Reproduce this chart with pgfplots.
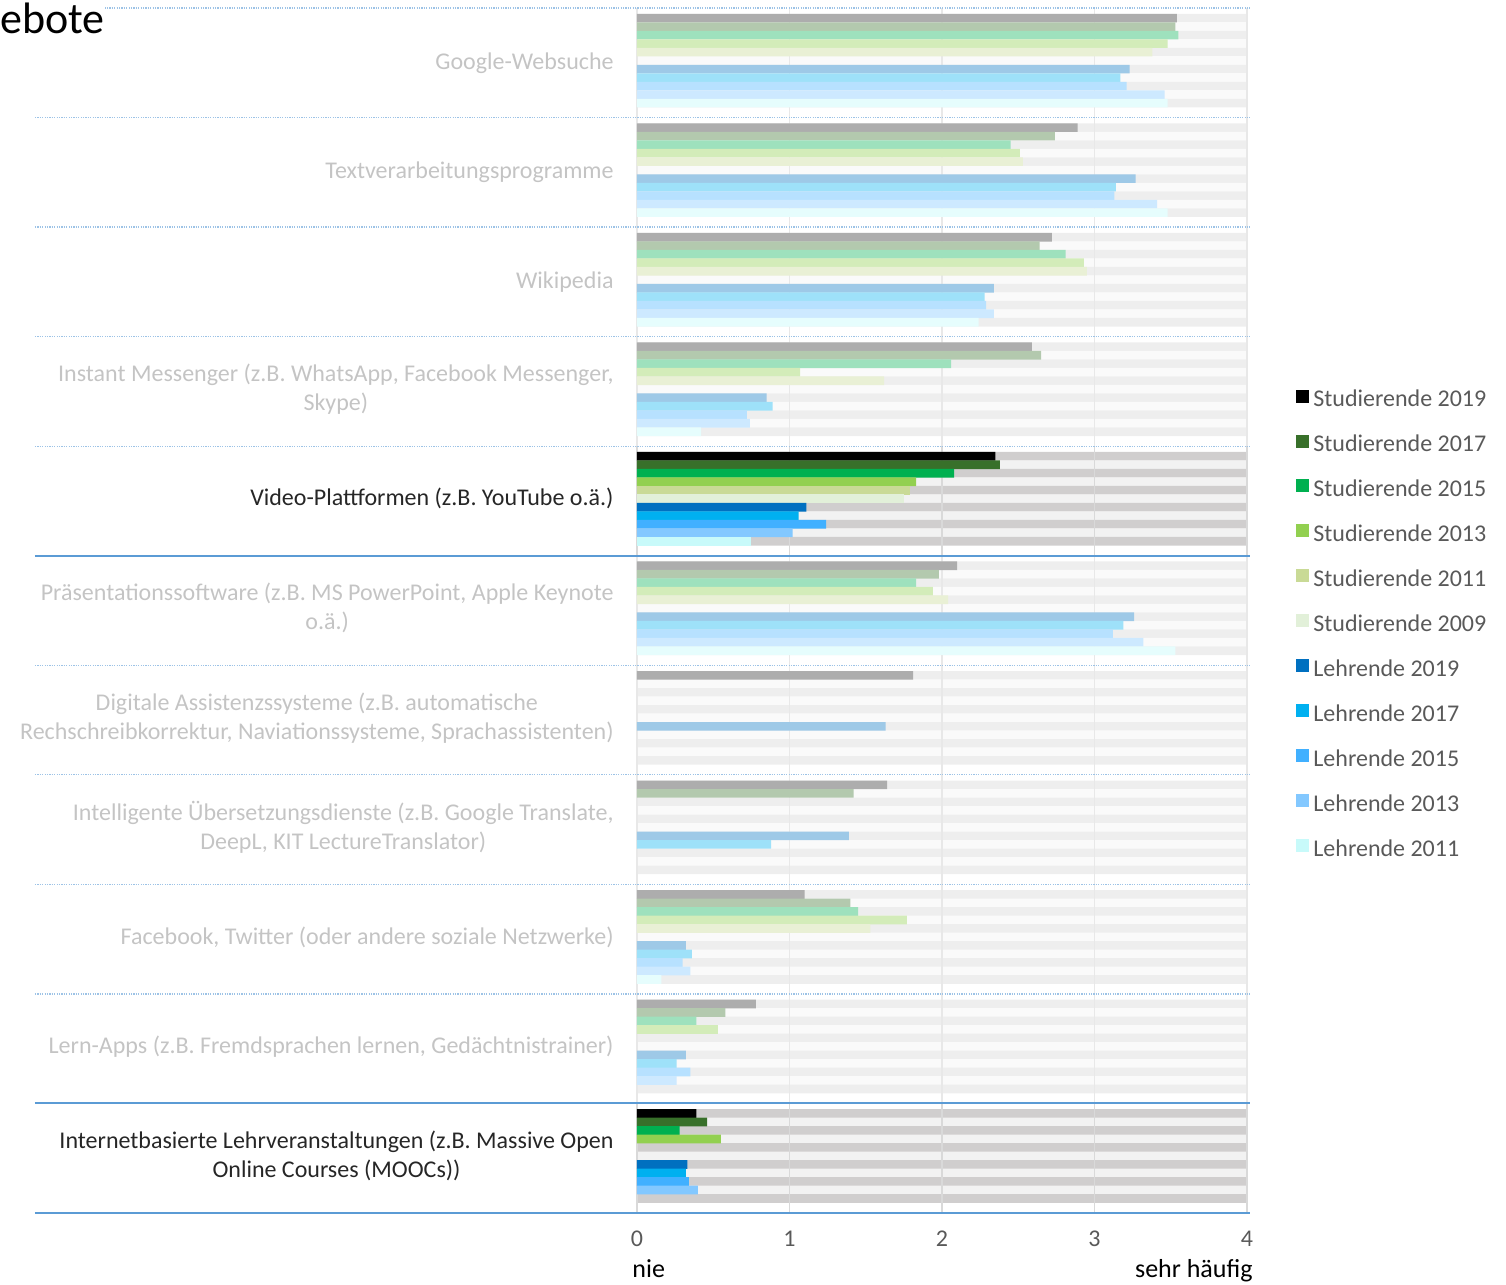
\documentclass[border=0pt]{standalone}
\usepackage{fontspec}
\setmainfont{Carlito}
\usepackage{pgfplots}
\pgfplotsset{compat=1.18}
\usepackage{pgfplotstable}

\definecolor{cS19}{HTML}{000000}
\definecolor{cS17}{HTML}{38702A}
\definecolor{cS15}{HTML}{00B050}
\definecolor{cS13}{HTML}{92D050}
\definecolor{cS11}{HTML}{C9DA96}
\definecolor{cS09}{HTML}{E2F0D9}
\definecolor{cL19}{HTML}{0070C0}
\definecolor{cL17}{HTML}{00B0F0}
\definecolor{cL15}{HTML}{41B0FF}
\definecolor{cL13}{HTML}{83C8FF}
\definecolor{cL11}{HTML}{C8FAFA}
\definecolor{bgD}{HTML}{D0CECE}
\definecolor{bgL}{HTML}{F2F2F2}
\definecolor{fbgD}{HTML}{EEEEEE}
\definecolor{fbgL}{HTML}{FAFAFA}
\definecolor{gridc}{HTML}{D9D9D9}
\definecolor{fgridc}{HTML}{E8E8E8}
\definecolor{sepblue}{HTML}{5B9BD5}
\definecolor{sepdot}{HTML}{9DC3E6}
\definecolor{ticktext}{HTML}{595959}
\definecolor{fadetext}{HTML}{C4C4C4}

% faded categories (index 0 = top)
\pgfplotstableread{
c S19 S17 S15 S13 S11 S09 L19 L17 L15 L13 L11
0 3.54 3.53 3.55 3.48 3.38 nan 3.23 3.17 3.21 3.46 3.48
1 2.89 2.74 2.45 2.51 2.53 nan 3.27 3.14 3.13 3.41 3.48
2 2.72 2.64 2.81 2.93 2.95 nan 2.34 2.28 2.29 2.34 2.24
3 2.59 2.65 2.06 1.07 1.62 nan 0.85 0.89 0.72 0.74 0.42
5 2.10 1.98 1.83 1.94 2.04 nan 3.26 3.19 3.12 3.32 3.53
6 1.81 nan nan nan nan nan 1.63 nan nan nan nan
7 1.64 1.42 nan nan nan nan 1.39 0.88 nan nan nan
8 1.10 1.40 1.45 1.77 1.53 nan 0.32 0.36 0.30 0.35 0.16
9 0.78 0.58 0.39 0.53 nan nan 0.32 0.26 0.35 0.26 nan
}\faded
% highlighted categories
\pgfplotstableread{
c S19 S17 S15 S13 S11 S09 L19 L17 L15 L13 L11
4 2.35 2.38 2.08 1.83 1.79 1.75 1.11 1.06 1.24 1.02 0.75
10 0.39 0.46 0.28 0.55 nan nan 0.33 0.32 0.34 0.40 nan
}\highl
% background bars (full scale)
\pgfplotstableread{
c v
0 4
1 4
2 4
3 4
5 4
6 4
7 4
8 4
9 4
}\bgfaded
\pgfplotstableread{
c v
4 4
10 4
}\bghigh

\newcommand{\lbl}{\fontsize{12}{14.5}\selectfont}
\pgfplotsset{
  bb/.style={xbar, bar width=0.079, draw=none, forget plot},
}

\begin{document}
\begin{tikzpicture}
\begin{axis}[
  scale only axis, width=305pt, height=602.5pt,
  at={(0,0)}, anchor=south west,
  xmin=0, xmax=4, ymin=-0.5, ymax=10.5, y dir=reverse,
  axis line style={draw=none},
  ytick=\empty, xtick={0,1,2,3,4}, major tick length=0pt,
  xticklabel style={text=ticktext, font=\fontsize{12}{14}\selectfont, yshift=-5.5pt},
  /pgf/number format/assume math mode=true,
  clip=false,
  legend image code/.code={\fill[#1, draw=none] (0pt,-1.2pt) rectangle (6.5pt,5.3pt);},
  legend cell align=left,
  legend style={draw=none, fill=none, inner sep=0pt, at={(1.0803,0.4880)}, anchor=west,
    font=\fontsize{12}{14}\selectfont, text=ticktext, row sep=8.65pt},
]
% ---- backgrounds, faded categories
\addplot[bb, bar shift=-0.408, fill=fbgD] table[x=v,y=c]{\bgfaded};
\addplot[bb, bar shift=-0.3304, fill=fbgL] table[x=v,y=c]{\bgfaded};
\addplot[bb, bar shift=-0.2528, fill=fbgD] table[x=v,y=c]{\bgfaded};
\addplot[bb, bar shift=-0.1752, fill=fbgL] table[x=v,y=c]{\bgfaded};
\addplot[bb, bar shift=-0.0976, fill=fbgD] table[x=v,y=c]{\bgfaded};
\addplot[bb, bar shift=-0.02, fill=fbgL] table[x=v,y=c]{\bgfaded};
\addplot[bb, bar shift=0.0576, fill=fbgD] table[x=v,y=c]{\bgfaded};
\addplot[bb, bar shift=0.1352, fill=fbgL] table[x=v,y=c]{\bgfaded};
\addplot[bb, bar shift=0.2128, fill=fbgD] table[x=v,y=c]{\bgfaded};
\addplot[bb, bar shift=0.2904, fill=fbgL] table[x=v,y=c]{\bgfaded};
\addplot[bb, bar shift=0.368, fill=fbgD] table[x=v,y=c]{\bgfaded};
% ---- backgrounds, highlighted categories
\addplot[bb, bar shift=-0.408, fill=bgD] table[x=v,y=c]{\bghigh};
\addplot[bb, bar shift=-0.3304, fill=bgL] table[x=v,y=c]{\bghigh};
\addplot[bb, bar shift=-0.2528, fill=bgD] table[x=v,y=c]{\bghigh};
\addplot[bb, bar shift=-0.1752, fill=bgL] table[x=v,y=c]{\bghigh};
\addplot[bb, bar shift=-0.0976, fill=bgD] table[x=v,y=c]{\bghigh};
\addplot[bb, bar shift=-0.02, fill=bgL] table[x=v,y=c]{\bghigh};
\addplot[bb, bar shift=0.0576, fill=bgD] table[x=v,y=c]{\bghigh};
\addplot[bb, bar shift=0.1352, fill=bgL] table[x=v,y=c]{\bghigh};
\addplot[bb, bar shift=0.2128, fill=bgD] table[x=v,y=c]{\bghigh};
\addplot[bb, bar shift=0.2904, fill=bgL] table[x=v,y=c]{\bghigh};
\addplot[bb, bar shift=0.368, fill=bgD] table[x=v,y=c]{\bghigh};
% ---- vertical grid lines
\pgfplotsinvokeforeach{0,1,2,3,4}{
  \draw[fgridc, line width=0.7pt] (axis cs:#1,-0.5) -- (axis cs:#1,10.5);
  \draw[gridc, line width=0.7pt] (axis cs:#1,3.5) -- (axis cs:#1,4.5);
  \draw[gridc, line width=0.7pt] (axis cs:#1,9.5) -- (axis cs:#1,10.5);
}
% ---- data, faded categories
\addplot[bb, bar shift=-0.408, fill=cS19!32!white] table[x=S19,y=c]{\faded};
\addplot[bb, bar shift=-0.3304, fill=cS17!38!white] table[x=S17,y=c]{\faded};
\addplot[bb, bar shift=-0.2528, fill=cS15!38!white] table[x=S15,y=c]{\faded};
\addplot[bb, bar shift=-0.1752, fill=cS13!40!white] table[x=S13,y=c]{\faded};
\addplot[bb, bar shift=-0.0976, fill=cS11!40!white] table[x=S11,y=c]{\faded};
\addplot[bb, bar shift=-0.02, fill=cS09!45!white] table[x=S09,y=c]{\faded};
\addplot[bb, bar shift=0.0576, fill=cL19!38!white] table[x=L19,y=c]{\faded};
\addplot[bb, bar shift=0.1352, fill=cL17!38!white] table[x=L17,y=c]{\faded};
\addplot[bb, bar shift=0.2128, fill=cL15!38!white] table[x=L15,y=c]{\faded};
\addplot[bb, bar shift=0.2904, fill=cL13!40!white] table[x=L13,y=c]{\faded};
\addplot[bb, bar shift=0.368, fill=cL11!45!white] table[x=L11,y=c]{\faded};
% ---- data, highlighted categories
\addplot[bb, bar shift=-0.408, fill=cS19] table[x=S19,y=c]{\highl};
\addplot[bb, bar shift=-0.3304, fill=cS17] table[x=S17,y=c]{\highl};
\addplot[bb, bar shift=-0.2528, fill=cS15] table[x=S15,y=c]{\highl};
\addplot[bb, bar shift=-0.1752, fill=cS13] table[x=S13,y=c]{\highl};
\addplot[bb, bar shift=-0.0976, fill=cS11] table[x=S11,y=c]{\highl};
\addplot[bb, bar shift=-0.02, fill=cS09] table[x=S09,y=c]{\highl};
\addplot[bb, bar shift=0.0576, fill=cL19] table[x=L19,y=c]{\highl};
\addplot[bb, bar shift=0.1352, fill=cL17] table[x=L17,y=c]{\highl};
\addplot[bb, bar shift=0.2128, fill=cL15] table[x=L15,y=c]{\highl};
\addplot[bb, bar shift=0.2904, fill=cL13] table[x=L13,y=c]{\highl};
\addplot[bb, bar shift=0.368, fill=cL11] table[x=L11,y=c]{\highl};
% ---- legend
\addlegendimage{fill=cS19}\addlegendentry{Studierende 2019}
\addlegendimage{fill=cS17}\addlegendentry{Studierende 2017}
\addlegendimage{fill=cS15}\addlegendentry{Studierende 2015}
\addlegendimage{fill=cS13}\addlegendentry{Studierende 2013}
\addlegendimage{fill=cS11}\addlegendentry{Studierende 2011}
\addlegendimage{fill=cS09}\addlegendentry{Studierende 2009}
\addlegendimage{fill=cL19}\addlegendentry{Lehrende 2019}
\addlegendimage{fill=cL17}\addlegendentry{Lehrende 2017}
\addlegendimage{fill=cL15}\addlegendentry{Lehrende 2015}
\addlegendimage{fill=cL13}\addlegendentry{Lehrende 2013}
\addlegendimage{fill=cL11}\addlegendentry{Lehrende 2011}
% ---- separator lines
\pgfplotsinvokeforeach{-0.5,0.5,1.5,2.5,3.5,5.5,6.5,7.5,8.5}{
  \draw[sepdot, line width=0.6pt, dash pattern=on 0.6pt off 0.6pt] (axis cs:-3.948,#1) -- (axis cs:4.02,#1);
}
\pgfplotsinvokeforeach{4.5,9.5,10.5}{
  \draw[sepblue, line width=1pt] (axis cs:-3.948,#1) -- (axis cs:4.02,#1);
}
% ---- category labels
\tikzset{cl/.style={anchor=east, align=center, inner sep=0pt, font=\lbl, text=fadetext}}
\node[cl] at (axis cs:-0.151,0) {Google-Websuche};
\node[cl] at (axis cs:-0.151,1) {Textverarbeitungsprogramme};
\node[cl] at (axis cs:-0.151,2) {Wikipedia};
\node[cl] at (axis cs:-0.151,2.98) {Instant Messenger (z.B. WhatsApp, Facebook Messenger,\\ Skype)};
\node[cl, text=black!85] at (axis cs:-0.151,3.98) {Video-Plattformen (z.B. YouTube o.ä.)};
\node[cl] at (axis cs:-0.151,4.98) {Präsentationssoftware (z.B. MS PowerPoint, Apple Keynote\\ o.ä.)};
\node[cl] at (axis cs:-0.151,5.98) {Digitale Assistenzssysteme (z.B. automatische\\ Rechschreibkorrektur, Naviationssysteme, Sprachassistenten)};
\node[cl] at (axis cs:-0.151,6.98) {Intelligente Übersetzungsdienste (z.B. Google Translate,\\ DeepL, KIT LectureTranslator)};
\node[cl] at (axis cs:-0.151,7.98) {Facebook, Twitter (oder andere soziale Netzwerke)};
\node[cl] at (axis cs:-0.151,8.98) {Lern-Apps (z.B. Fremdsprachen lernen, Gedächtnistrainer)};
\node[cl, text=black!85] at (axis cs:-0.151,9.98) {Internetbasierte Lehrveranstaltungen (z.B. Massive Open\\ Online Courses (MOOCs))};
\end{axis}
\node[anchor=base west, inner sep=0pt, fill=white, font=\fontsize{22}{26}\selectfont] at (-318.5pt,589.5pt) {ebote};
\node[anchor=base west, inner sep=0pt, font=\fontsize{13}{15}\selectfont] at (-2.5pt,-32.5pt) {nie};
\node[anchor=base east, inner sep=0pt, font=\fontsize{13}{15}\selectfont] at (308pt,-32.5pt) {sehr häufig};
\pgfresetboundingbox
\useasboundingbox (-318.5pt,-36pt) rectangle (434.5pt,606.5pt);
\end{tikzpicture}
\end{document}
